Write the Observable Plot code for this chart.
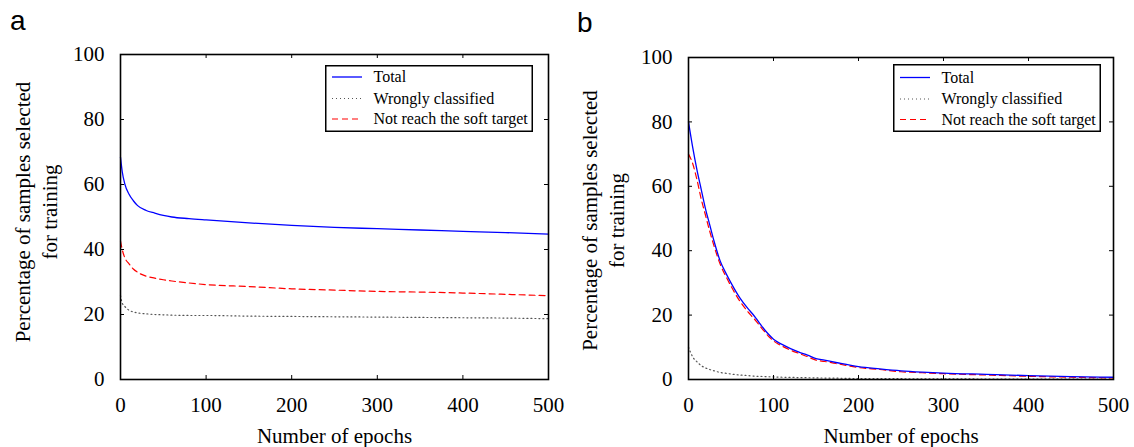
<!DOCTYPE html>
<html><head><meta charset="utf-8">
<script src="https://cdn.jsdelivr.net/npm/d3@7"></script>
<script src="https://cdn.jsdelivr.net/npm/@observablehq/plot@0.6"></script>
<style>
body{margin:0;background:#fff;}
#wrap{position:relative;width:1134px;height:447px;overflow:hidden;background:#fff;}
.panel{position:absolute;top:0;}
.letter{position:absolute;font-family:"Liberation Sans",Arial,sans-serif;font-size:28px;line-height:1;color:#000;}
</style>
</head><body>
<div id="wrap"></div>
<script>
// ---------- data ----------
const seriesNames = ["Total", "Wrongly classified", "Not reach the soft target"];
const xTicks = [0, 100, 200, 300, 400, 500];
const yTicks = [0, 20, 40, 60, 80, 100];
const xLabel = "Number of epochs";
const yLabel = "Percentage of samples selected\nfor training";
const panelLetters = ["a", "b"];

// Panel a
const epochsA   = [0, 2, 5, 10, 15, 20, 30, 40, 50, 60, 80, 100, 150, 200, 250, 300, 350, 400, 450, 500];
const totalA    = [68.4, 64, 60.2, 57, 55, 53.5, 52, 51.2, 50.5, 50, 49.5, 49.1, 48.2, 47.4, 46.8, 46.4, 46, 45.6, 45.2, 44.7];
const wrongA    = [25.8, 23.5, 22.5, 21.3, 20.8, 20.5, 20.2, 20, 19.9, 19.8, 19.7, 19.7, 19.5, 19.4, 19.3, 19.2, 19.1, 19, 18.9, 18.7];
const notReachA = [42.6, 40, 37.5, 35.6, 34, 33, 31.8, 31.2, 30.7, 30.3, 29.7, 29.2, 28.6, 27.9, 27.5, 27.1, 26.9, 26.6, 26.2, 25.8];

// Panel b
const epochsB   = [0, 5, 10, 15, 20, 25, 30, 37, 45, 50, 60, 70, 75, 80, 85, 90, 95, 100, 105, 110, 120, 130, 140, 150, 160, 175, 200, 225, 250, 275, 300, 350, 400, 450, 500];
const totalB    = [80, 72, 65, 59, 53, 48, 43, 37, 32.5, 30, 25.5, 22, 20.5, 18.8, 17, 15.3, 13.8, 12.5, 11.6, 10.9, 9.6, 8.5, 7.6, 6.5, 6.0, 5.2, 4.0, 3.3, 2.7, 2.3, 2.0, 1.6, 1.2, 0.9, 0.7];
const wrongB    = [10, 7, 5.5, 4.3, 3.6, 3.1, 2.7, 2.2, 1.9, 1.7, 1.4, 1.2, 1.1, 1.0, 0.95, 0.9, 0.85, 0.8, 0.75, 0.7, 0.65, 0.6, 0.55, 0.5, 0.45, 0.4, 0.3, 0.3, 0.25, 0.2, 0.2, 0.15, 0.1, 0.1, 0.1];
const notReachB = [70, 67, 62, 56, 51, 46, 41.5, 36, 31.5, 29, 24.5, 21, 19.5, 18, 16.3, 14.7, 13.2, 12, 11.1, 10.4, 9.1, 8.1, 7.1, 6, 5.6, 4.9, 3.7, 3.1, 2.4, 2.1, 1.8, 1.4, 1.0, 0.7, 0.5];

// ---------- styles ----------
const seriesStyle = [
  {stroke: "#0000ff", dash: null, width: 1.3},
  {stroke: "#555555", dash: "1,3", width: 1.2},
  {stroke: "#ff0000", dash: "6,4", width: 1.2}
];
const serif = "'Liberation Serif', 'Times New Roman', serif";
const FS = 21;

function makePanel(cfg) {
  const {epochs, series, left, mt, mb, ml, mr, labelDy, labelDx} = cfg;
  const W = 567, H = 447;
  const plotW = W - ml - mr, plotH = H - mt - mb;
  const rows = series.map(vals => epochs.map((e, i) => ({epoch: e, value: vals[i]})));
  const tickLen = 4;
  const marks = [];
  [1, 2, 0].forEach(k => {
    const s = seriesStyle[k];
    marks.push(Plot.lineY(rows[k], {x: "epoch", y: "value", stroke: s.stroke, strokeWidth: s.width,
      strokeDasharray: s.dash, curve: "monotone-x"}));
  });
  marks.push(
    Plot.frame({stroke: "#000", strokeWidth: 1.6}),
    Plot.axisX(xTicks, {tickSize: 0, tickPadding: 18, label: null, fontSize: FS, fontFamily: serif}),
    Plot.axisY(yTicks, {tickSize: 0, tickPadding: 16, label: null, fontSize: FS, fontFamily: serif}),
    Plot.tickX(xTicks.slice(1, -1), {x: d => d, insetTop: plotH - tickLen, stroke: "#000", strokeWidth: 1}),
    Plot.tickX(xTicks.slice(1, -1), {x: d => d, insetBottom: plotH - tickLen, stroke: "#000", strokeWidth: 1}),
    Plot.tickY(yTicks.slice(1, -1), {y: d => d, insetRight: plotW - tickLen, stroke: "#000", strokeWidth: 1}),
    Plot.tickY(yTicks.slice(1, -1), {y: d => d, insetLeft: plotW - tickLen, stroke: "#000", strokeWidth: 1}),
    Plot.text([xLabel], {text: d => d, frameAnchor: "bottom", dy: 57, lineAnchor: "middle", textAnchor: "middle",
      fontSize: FS, fontFamily: serif, fill: "#000"}),
    Plot.text([yLabel], {text: d => d, frameAnchor: "left", rotate: -90, dx: labelDx, dy: labelDy,
      textAnchor: "middle", lineAnchor: "middle", lineHeight: 1.3, fontSize: FS, fontFamily: serif, fill: "#000"})
  );
  const svg = Plot.plot({
    width: W, height: H, marginTop: mt, marginBottom: mb, marginLeft: ml, marginRight: mr,
    x: {domain: [0, 500]}, y: {domain: [0, 100]},
    style: {fontFamily: serif, fontSize: FS + "px", background: "transparent", color: "#000", overflow: "visible"},
    marks
  });
  const div = document.createElement("div");
  div.className = "panel";
  div.style.left = left + "px";
  div.appendChild(svg);
  return div;
}

function makeLegend(box, rowsY) {
  const {x, y, w, h} = box;
  const svg = d3.create("svg").attr("width", w).attr("height", h)
    .style("position", "absolute").style("left", x + "px").style("top", y + "px").style("overflow", "visible");
  svg.append("rect").attr("x", 0.75).attr("y", 0.75).attr("width", w - 1.5).attr("height", h - 1.5)
    .attr("fill", "#fff").attr("stroke", "#000").attr("stroke-width", 1.5);
  seriesNames.forEach((name, i) => {
    const s = seriesStyle[i];
    const yy = rowsY[i] - y;
    const ln = svg.append("line").attr("x1", 7).attr("x2", 37).attr("y1", yy).attr("y2", yy)
      .attr("stroke", s.stroke).attr("stroke-width", s.width);
    if (s.dash) ln.attr("stroke-dasharray", s.dash);
    svg.append("text").attr("x", 48.5).attr("y", yy).attr("dy", "0.32em")
      .attr("font-family", serif).attr("font-size", 16).attr("fill", "#000").text(name);
  });
  return svg.node();
}

const wrap = document.getElementById("wrap");
wrap.appendChild(makePanel({epochs: epochsA, series: [totalA, wrongA, notReachA], left: 0,
  mt: 54, mb: 68, ml: 120, mr: 19, labelDy: -5, labelDx: -86}));
wrap.appendChild(makePanel({epochs: epochsB, series: [totalB, wrongB, notReachB], left: 567,
  mt: 57, mb: 68, ml: 121, mr: 21, labelDy: 2, labelDx: -87}));

wrap.appendChild(makeLegend({x: 325, y: 65, w: 208, h: 67}, [77, 98.5, 119]));
wrap.appendChild(makeLegend({x: 893, y: 64, w: 208, h: 68}, [77.5, 99, 119.5]));

panelLetters.forEach((t, i) => {
  const d = document.createElement("div");
  d.className = "letter";
  d.textContent = t;
  d.style.left = (i === 0 ? 10 : 577) + "px";
  d.style.top = (i === 0 ? 7 : 9) + "px";
  wrap.appendChild(d);
});
</script>
</body></html>
